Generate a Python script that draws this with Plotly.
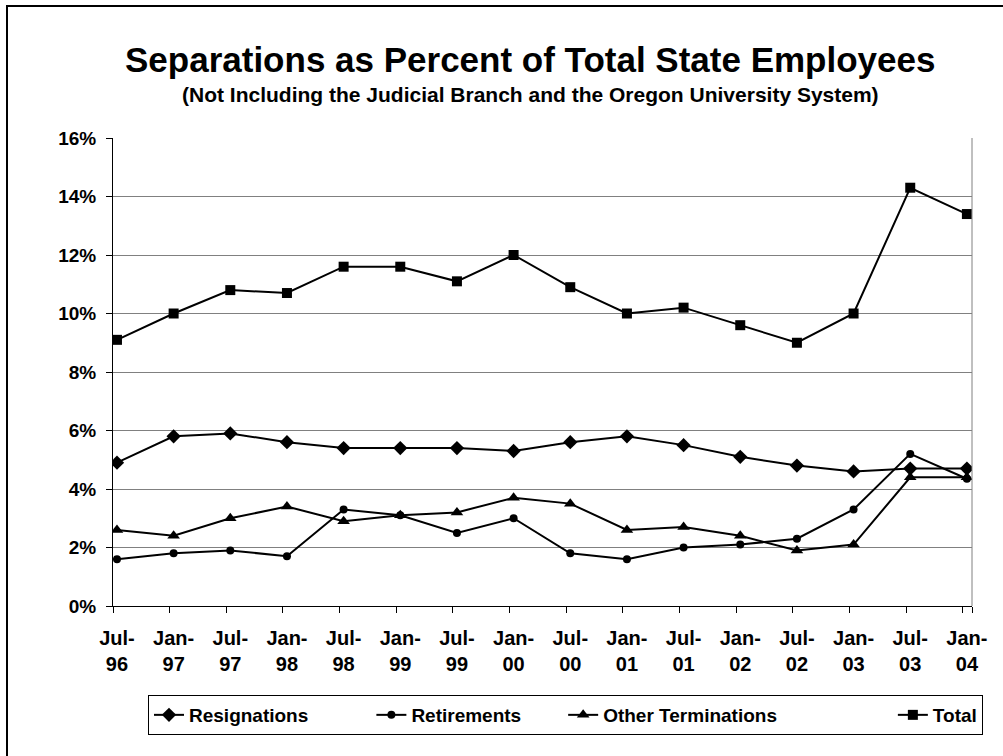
import plotly.graph_objects as go

categories = ["Jul-96", "Jan-97", "Jul-97", "Jan-98", "Jul-98", "Jan-99", "Jul-99", "Jan-00",
              "Jul-00", "Jan-01", "Jul-01", "Jan-02", "Jul-02", "Jan-03", "Jul-03", "Jan-04"]
resignations = [4.9, 5.8, 5.9, 5.6, 5.4, 5.4, 5.4, 5.3, 5.6, 5.8, 5.5, 5.1, 4.8, 4.6, 4.7, 4.7]
retirements = [1.6, 1.8, 1.9, 1.7, 3.3, 3.1, 2.5, 3.0, 1.8, 1.6, 2.0, 2.1, 2.3, 3.3, 5.2, 4.35]
other_terminations = [2.6, 2.4, 3.0, 3.4, 2.9, 3.1, 3.2, 3.7, 3.5, 2.6, 2.7, 2.4, 1.9, 2.1, 4.4, 4.4]
total = [9.1, 10.0, 10.8, 10.7, 11.6, 11.6, 11.1, 12.0, 10.9, 10.0, 10.2, 9.6, 9.0, 10.0, 14.3, 13.4]
y_ticks = [0, 2, 4, 6, 8, 10, 12, 14, 16]

FONT = "Liberation Sans, Arial, sans-serif"
NB = "\u00a0"
x_idx = list(range(len(categories)))
tick_text = [c.replace("-", "-<br>") for c in categories]

series = [
    ("Resignations", resignations, "diamond", 11, 11),
    ("Retirements", retirements, "circle", 8, 7),
    ("Other Terminations", other_terminations, "triangle-up", 11, 21),
    ("Total", total, "square", 10, 0),
]

fig = go.Figure()
for name, vals, sym, size, pad in series:
    fig.add_trace(go.Scatter(
        x=x_idx, y=vals, name=name + NB * pad, mode="lines+markers",
        line=dict(color="black", width=2),
        marker=dict(symbol=sym, size=size, color="black"),
    ))

L, R, T, B = 113, 31, 138, 150
W, H = 1003, 756
pw = W - L - R
ph = H - T - B

fig.update_layout(
    width=W, height=H,
    margin=dict(l=L, r=R, t=T, b=B, autoexpand=False),
    paper_bgcolor="white", plot_bgcolor="white",
    font=dict(family=FONT, color="black"),
    showlegend=True,
    legend=dict(
        orientation="h",
        xref="container", yref="container",
        x=148 / W, xanchor="left",
        y=1 - 695 / H, yanchor="top",
        bordercolor="black", borderwidth=1,
        font=dict(size=19, family=FONT, color="black", weight="bold"),
        itemwidth=30,
    ),
    xaxis=dict(
        range=[-0.07, 15.09],
        tickmode="array", tickvals=x_idx, ticktext=tick_text,
        ticks="", showgrid=False, zeroline=False,
        showline=True, linecolor="black", linewidth=1,
        ticklabelstandoff=14,
        tickfont=dict(size=20, family=FONT, color="black", weight="bold"),
        minor=dict(tickmode="array", tickvals=[i - 0.07 for i in x_idx] + [15.09],
                   ticks="outside", ticklen=6, tickcolor="black", showgrid=False),
        fixedrange=True,
    ),
    yaxis=dict(
        range=[0, 16],
        tickmode="array", tickvals=y_ticks, ticktext=[f"{v}%" for v in y_ticks],
        ticks="outside", ticklen=6, tickcolor="black",
        showgrid=True, gridcolor="#808080", gridwidth=1,
        zeroline=False,
        showline=True, linecolor="black", linewidth=1,
        ticklabelstandoff=6,
        tickfont=dict(size=19, family=FONT, color="black", weight="bold"),
        fixedrange=True,
    ),
)

# plot-area right border
fig.add_shape(type="line", xref="paper", yref="paper", x0=1, x1=1, y0=0, y1=1,
              line=dict(color="#808080", width=1))
# outer chart frame
fig.add_shape(type="rect", xref="paper", yref="paper",
              x0=(7 - L) / pw, x1=(W + 20 - L) / pw,
              y0=-(H + 20 - T - ph) / ph, y1=1 + (T - 6) / ph,
              line=dict(color="black", width=2), layer="below")

fig.add_annotation(text="<b>Separations as Percent of Total State Employees</b>",
                   xref="paper", yref="paper", x=(530 - L) / pw, y=1 + (T - 60) / ph,
                   showarrow=False, font=dict(size=35, family=FONT, color="black"),
                   xanchor="center", yanchor="middle")
fig.add_annotation(text="<b>(Not Including the Judicial Branch and the Oregon University System)</b>",
                   xref="paper", yref="paper", x=(530 - L) / pw, y=1 + (T - 95) / ph,
                   showarrow=False, font=dict(size=21, family=FONT, color="black"),
                   xanchor="center", yanchor="middle")

fig.write_html("out.html")
